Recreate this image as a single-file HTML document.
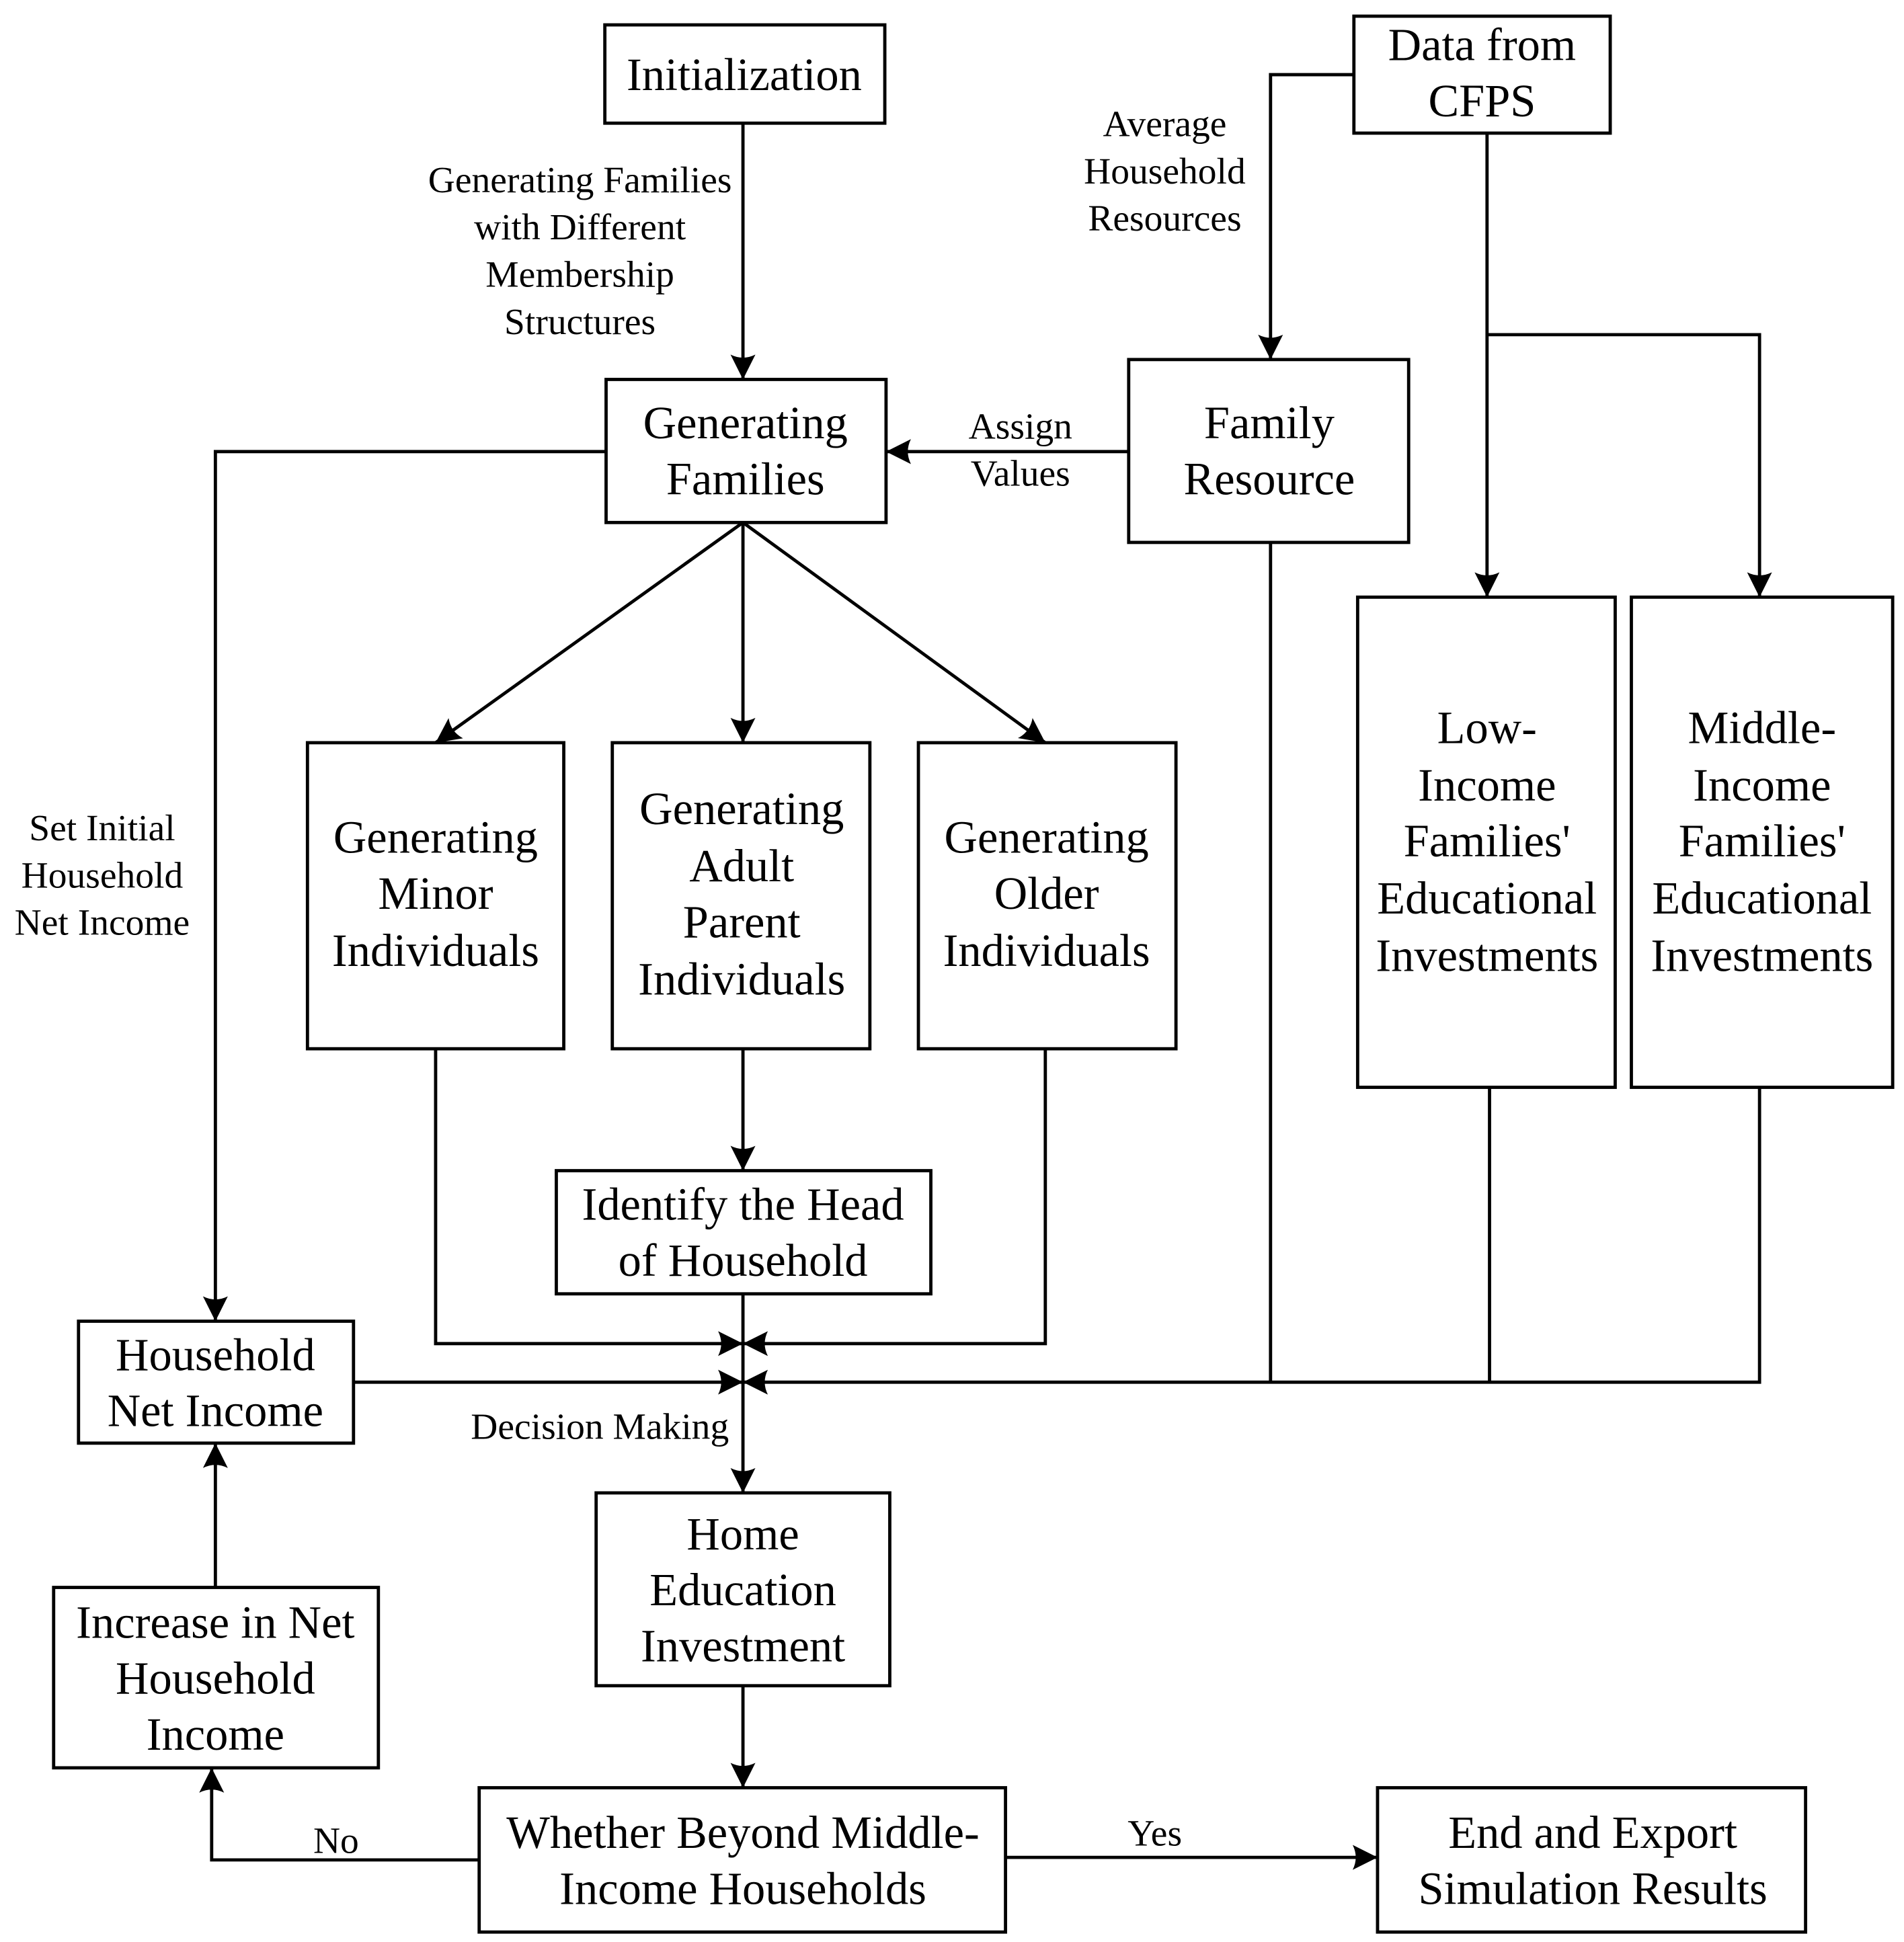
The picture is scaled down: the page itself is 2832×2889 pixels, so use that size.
<!DOCTYPE html>
<html><head><meta charset="utf-8"><style>html,body{margin:0;padding:0;background:#fff}svg{display:block}text{font-family:"Liberation Serif","Times New Roman",serif}</style></head>
<body>
<svg width="2832" height="2889" viewBox="0 0 1530 1561" xmlns="http://www.w3.org/2000/svg">
<defs>
<marker id="a" markerUnits="userSpaceOnUse" markerWidth="22" markerHeight="22" refX="20" refY="10" orient="auto">
<path d="M0,0 Q5,10 0,20 L20,10 Z" fill="#000"/>
</marker>
</defs>
<rect width="1530" height="1561" fill="#fff"/>
<g fill="none" stroke="#000" stroke-width="2.6">
<rect x="486" y="20" width="225" height="79"/>
<rect x="1088" y="13" width="206" height="94"/>
<rect x="487" y="305" width="225" height="115"/>
<rect x="907" y="289" width="225" height="147"/>
<rect x="1091" y="480" width="207" height="394"/>
<rect x="1311" y="480" width="210" height="394"/>
<rect x="247" y="597" width="206" height="246"/>
<rect x="492" y="597" width="207" height="246"/>
<rect x="738" y="597" width="207" height="246"/>
<rect x="447" y="941" width="301" height="99"/>
<rect x="63" y="1062" width="221" height="98"/>
<rect x="479" y="1200" width="236" height="155"/>
<rect x="385" y="1437" width="423" height="116"/>
<rect x="1107" y="1437" width="344" height="116"/>
<rect x="43" y="1276" width="261" height="145"/>
</g>
<g fill="none" stroke="#000" stroke-width="2.6">
<path d="M597,99 V305" marker-end="url(#a)"/>
<path d="M1088,60 H1021 V289" marker-end="url(#a)"/>
<path d="M907,363 H712" marker-end="url(#a)"/>
<path d="M1195,107 V480" marker-end="url(#a)"/>
<path d="M1195,269 H1414 V480" marker-end="url(#a)"/>
<path d="M487,363 H173 V1062" marker-end="url(#a)"/>
<path d="M597,420 L350,597" marker-end="url(#a)"/>
<path d="M597,420 V597" marker-end="url(#a)"/>
<path d="M597,420 L840,597" marker-end="url(#a)"/>
<path d="M597,843 V941" marker-end="url(#a)"/>
<path d="M350,843 V1080 H597" marker-end="url(#a)"/>
<path d="M840,843 V1080 H597" marker-end="url(#a)"/>
<path d="M597,1040 V1200" marker-end="url(#a)"/>
<path d="M284,1111 H597" marker-end="url(#a)"/>
<path d="M1021,436 V1111"/>
<path d="M1197,874 V1111"/>
<path d="M1414,874 V1111 H597" marker-end="url(#a)"/>
<path d="M597,1355 V1437" marker-end="url(#a)"/>
<path d="M385,1495 H170 V1421" marker-end="url(#a)"/>
<path d="M808,1493 H1107" marker-end="url(#a)"/>
<path d="M173,1276 V1160" marker-end="url(#a)"/>
</g>
<g font-size="37" text-anchor="middle" dominant-baseline="central" fill="#000">
<text x="598" y="60">Initialization</text>
<text x="1191" y="36">Data from</text><text x="1191" y="81">CFPS</text>
<text x="599" y="340">Generating</text><text x="599" y="385">Families</text>
<text x="1020" y="340">Family</text><text x="1020" y="385">Resource</text>
<text x="1195" y="585">Low-</text><text x="1195" y="631">Income</text><text x="1195" y="676">Families'</text><text x="1195" y="722">Educational</text><text x="1195" y="768">Investments</text>
<text x="1416" y="585">Middle-</text><text x="1416" y="631">Income</text><text x="1416" y="676">Families'</text><text x="1416" y="722">Educational</text><text x="1416" y="768">Investments</text>
<text x="350" y="673">Generating</text><text x="350" y="718">Minor</text><text x="350" y="764">Individuals</text>
<text x="596" y="650">Generating</text><text x="596" y="696">Adult</text><text x="596" y="741">Parent</text><text x="596" y="787">Individuals</text>
<text x="841" y="673">Generating</text><text x="841" y="718">Older</text><text x="841" y="764">Individuals</text>
<text x="597" y="968">Identify the Head</text><text x="597" y="1013">of Household</text>
<text x="173" y="1089">Household</text><text x="173" y="1134">Net Income</text>
<text x="597" y="1233">Home</text><text x="597" y="1278">Education</text><text x="597" y="1323">Investment</text>
<text x="597" y="1473">Whether Beyond Middle-</text><text x="597" y="1518">Income Households</text>
<text x="1280" y="1473">End and Export</text><text x="1280" y="1518">Simulation Results</text>
<text x="173" y="1304">Increase in Net</text><text x="173" y="1349">Household</text><text x="173" y="1394">Income</text>
</g>
<g font-size="30" text-anchor="middle" dominant-baseline="central" fill="#000">
<text x="466" y="145">Generating Families</text><text x="466" y="183">with Different</text><text x="466" y="221">Membership</text><text x="466" y="259">Structures</text>
<text x="936" y="100">Average</text><text x="936" y="138">Household</text><text x="936" y="176">Resources</text>
<text x="820" y="343">Assign</text><text x="820" y="381">Values</text>
<text x="82" y="666">Set Initial</text><text x="82" y="704">Household</text><text x="82" y="742">Net Income</text>
<text x="482" y="1147">Decision Making</text>
<text x="270" y="1480">No</text>
<text x="928" y="1474">Yes</text>
</g>
</svg>
</body></html>
